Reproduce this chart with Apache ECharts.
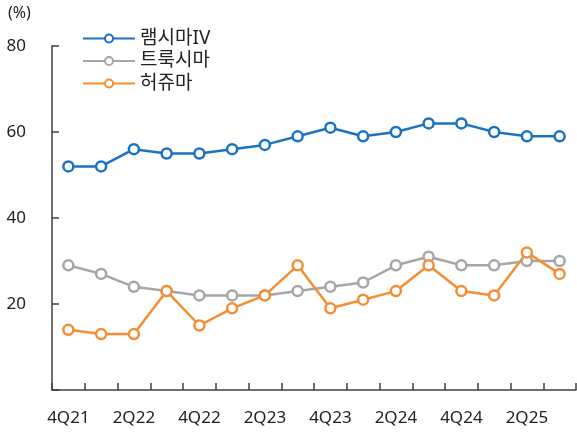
<!DOCTYPE html>
<html>
<head>
<meta charset="utf-8">
<script src="https://cdn.jsdelivr.net/npm/echarts@6/dist/echarts.min.js"></script>
<style>
html, body { margin: 0; padding: 0; background: #fff; }
#chart { width: 577px; height: 433px; }
</style>
</head>
<body>
<div id="chart"></div>
<script>
// 분기
var categories = ['4Q21', '1Q22', '2Q22', '3Q22', '4Q22', '1Q23', '2Q23', '3Q23',
  '4Q23', '1Q24', '2Q24', '3Q24', '4Q24', '1Q25', '2Q25', '3Q25'];
var remsimaIV = [52, 52, 56, 55, 55, 56, 57, 59, 61, 59, 60, 62, 62, 60, 59, 59];
var truxima = [29, 27, 24, 23, 22, 22, 22, 23, 24, 25, 29, 31, 29, 29, 30, 30];
var herzuma = [14, 13, 13, 23, 15, 19, 22, 29, 19, 21, 23, 29, 23, 22, 32, 27];
var seriesNames = ['램시마IV', '트룩시마', '허쥬마'];
var colors = ['#1a73c1', '#a6a6a6', '#f58d33'];

var font = '"Noto Sans", "Noto Sans CJK KR", sans-serif';
var axisColor = '#404040';

function makeSeries (name, data, color) {
  return {
    name: name,
    type: 'line',
    data: data,
    symbol: 'circle',
    symbolSize: 10,
    lineStyle: { color: color, width: 2.5 },
    itemStyle: { color: '#fff', borderColor: color, borderWidth: 2.5 },
    emphasis: { disabled: true },
  };
}

var chart = echarts.init(document.getElementById('chart'));
chart.setOption({
  animation: false,
  textStyle: { fontFamily: font },
  grid: { left: 52, right: 1, top: 46, bottom: 43 },
  legend: {
    orient: 'vertical',
    left: 77,
    top: 24,
    itemWidth: 52,
    itemHeight: 10,
    itemGap: 3.5,
    data: seriesNames,
    textStyle: { fontSize: 19, lineHeight: 19, color: '#222', fontFamily: font },
  },
  graphic: [{
    type: 'text',
    left: 8,
    top: 5,
    style: { text: '(%)', fontSize: 16, fill: '#222', fontFamily: font },
  }],
  xAxis: {
    type: 'category',
    data: categories,
    axisLine: { show: true, lineStyle: { color: axisColor, width: 1.5 } },
    // 눈금은 안쪽으로
    axisTick: { show: true, interval: 0, inside: false, length: -7, lineStyle: { color: axisColor, width: 1.5 } },
    axisLabel: { interval: 1, fontSize: 17, color: '#222', margin: 20, fontFamily: font },
  },
  yAxis: {
    type: 'value',
    min: 0,
    max: 80,
    interval: 20,
    splitLine: { show: false },
    axisLine: { show: true, lineStyle: { color: axisColor, width: 1.5 } },
    axisTick: { show: true, inside: false, length: -7, lineStyle: { color: axisColor, width: 1.5 } },
    axisLabel: {
      fontSize: 17, color: '#222', margin: 26, fontFamily: font,
      formatter: function (v) { return v === 0 ? '' : v; },
    },
  },
  series: [
    makeSeries(seriesNames[0], remsimaIV, colors[0]),
    makeSeries(seriesNames[1], truxima, colors[1]),
    makeSeries(seriesNames[2], herzuma, colors[2]),
  ],
});
</script>
</body>
</html>
